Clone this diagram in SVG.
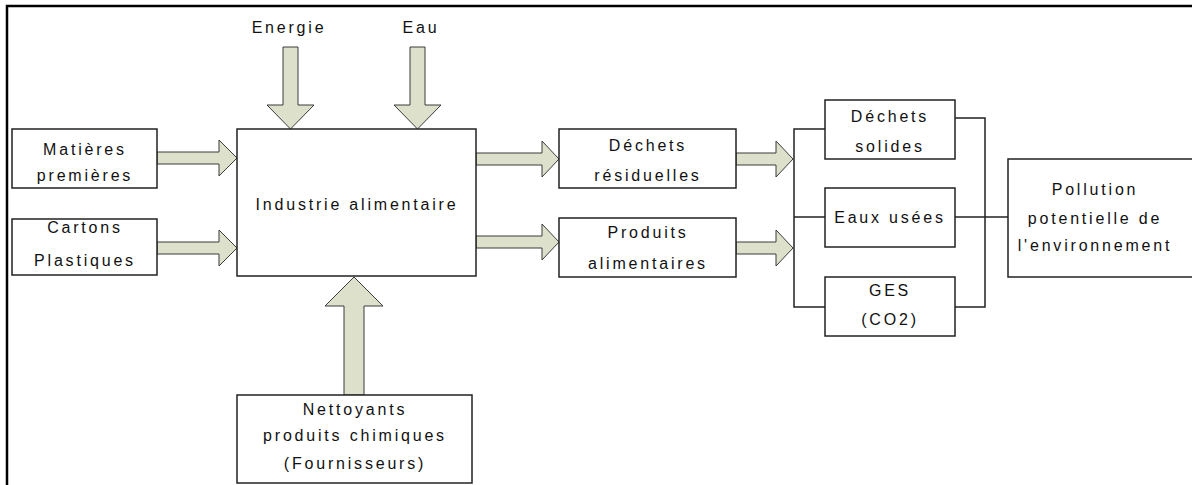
<svg xmlns="http://www.w3.org/2000/svg" width="1192" height="485" viewBox="0 0 1192 485">
<style>
.box{fill:#fff;stroke:#222;stroke-width:1.5}
.arr{fill:#dde0cb;stroke:#3a3a3a;stroke-width:1}
.ln{fill:none;stroke:#222;stroke-width:1.5}
text{font-family:"Liberation Sans",Arial,sans-serif;font-size:16px;fill:#111;text-anchor:middle;letter-spacing:2.8px}
</style>
<rect width="1192" height="485" fill="#fff"/>
<polyline points="7,485 7,6 1192,6" fill="none" stroke="#000" stroke-width="2.5"/>
<g id="connectors">
<polygon class="arr" points="157,152 219,152 219,140 237,158 219,176 219,164 157,164"/>
<polygon class="arr" points="157,242 219,242 219,230 237,248 219,266 219,254 157,254"/>
<polygon class="arr" points="283,47 298,47 298,105 314,105 290.5,129 267,105 283,105"/>
<polygon class="arr" points="410,47 425,47 425,105 441,105 417.5,129 394,105 410,105"/>
<polygon class="arr" points="476,153 542,153 542,141 559,159 542,177 542,165 476,165"/>
<polygon class="arr" points="476,236 542,236 542,224 559,242 542,260 542,248 476,248"/>
<polygon class="arr" points="736,153 776,153 776,141 793,159 776,177 776,165 736,165"/>
<polygon class="arr" points="736,242 776,242 776,230 793,248 776,266 776,254 736,254"/>
<polygon class="arr" points="344,395 344,306 325,306 354,277 383,306 364,306 364,395"/>
<polyline class="ln" points="825,129 794,129 794,307 825,307"/>
<line class="ln" x1="794" y1="217" x2="825" y2="217"/>
<polyline class="ln" points="955,118 985,118 985,307 955,307"/>
<line class="ln" x1="955" y1="217" x2="1008" y2="217"/>
</g>
<g id="energie"><text x="289" y="33">Energie</text></g>
<g id="eau"><text x="421" y="33">Eau</text></g>
<g id="matieres"><rect class="box" x="12" y="129" width="145" height="59"/><text x="85" y="155">Matières</text><text x="85" y="181">premières</text></g>
<g id="cartons"><rect class="box" x="12" y="219" width="145" height="56"/><text x="85" y="233">Cartons</text><text x="85" y="266">Plastiques</text></g>
<g id="industrie"><rect class="box" x="237" y="129" width="239" height="147"/><text x="357" y="210">Industrie alimentaire</text></g>
<g id="dechets-residuelles"><rect class="box" x="559" y="129" width="177" height="59"/><text x="648" y="151">Déchets</text><text x="648" y="181">résiduelles</text></g>
<g id="produits"><rect class="box" x="559" y="218" width="177" height="59"/><text x="648" y="238">Produits</text><text x="648" y="269">alimentaires</text></g>
<g id="dechets-solides"><rect class="box" x="825" y="100" width="130" height="59"/><text x="890" y="122">Déchets</text><text x="890" y="152">solides</text></g>
<g id="eaux-usees"><rect class="box" x="825" y="188" width="130" height="59"/><text x="890" y="223">Eaux usées</text></g>
<g id="ges"><rect class="box" x="825" y="277" width="130" height="59"/><text x="890" y="296">GES</text><text x="890" y="325">(CO2)</text></g>
<g id="pollution"><rect class="box" x="1008" y="159" width="200" height="118"/><text x="1095" y="195">Pollution</text><text x="1095" y="224">potentielle de</text><text x="1095" y="251">l'environnement</text></g>
<g id="nettoyants"><rect class="box" x="237" y="395" width="235" height="88"/><text x="355" y="415">Nettoyants</text><text x="355" y="441">produits chimiques</text><text x="355" y="469">(Fournisseurs)</text></g>
</svg>
